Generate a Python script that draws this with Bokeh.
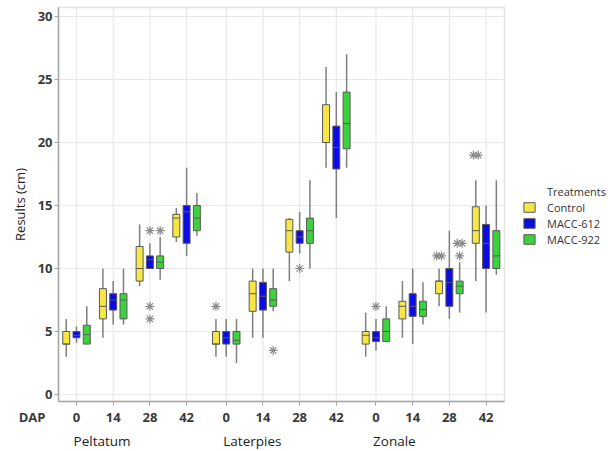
from collections import Counter
from bokeh.plotting import figure
from bokeh.models import (ColumnDataSource, FixedTicker, Label, Legend, LegendItem, Range1d,
                          BoxAnnotation)
from bokeh.embed import file_html
from bokeh.resources import INLINE

# ---------------- data ----------------
groups = ["Peltatum", "Laterpies", "Zonale"]
dap = ["0", "14", "28", "42"]
treatments = ["Control", "MACC-612", "MACC-922"]
colors = ["#F8E546", "#0B0BE2", "#3DD23D"]
y_ticks = [0, 5, 10, 15, 20, 25, 30]

# cells ordered: Peltatum 0,14,28,42 | Laterpies 0,14,28,42 | Zonale 0,14,28,42
control_low = [3.0, 4.5, 8.6, 12.1, 3.0, 4.5, 9.0, 18.0, 3.0, 4.5, 7.0, 9.0]
control_q1 = [4.0, 6.0, 9.0, 12.5, 4.0, 6.6, 11.3, 20.0, 4.0, 6.0, 8.0, 12.0]
control_med = [4.0, 7.0, 10.0, 14.0, 4.0, 8.0, 13.0, 20.0, 4.7, 7.0, 9.0, 13.0]
control_q3 = [5.0, 8.4, 11.75, 14.3, 5.0, 9.0, 13.9, 23.0, 5.0, 7.4, 9.0, 14.9]
control_high = [6.0, 10.0, 13.5, 14.8, 6.0, 10.0, 14.0, 26.0, 6.5, 9.0, 10.0, 17.0]

macc612_low = [4.1, 5.55, 10.0, 11.0, 3.0, 4.5, 11.2, 14.0, 3.5, 4.0, 6.0, 6.5]
macc612_q1 = [4.5, 6.7, 10.0, 12.0, 4.0, 6.7, 12.0, 17.9, 4.2, 6.2, 7.0, 10.0]
macc612_med = [4.7, 7.5, 10.7, 14.5, 4.5, 7.8, 12.5, 19.6, 4.5, 7.0, 8.9, 12.0]
macc612_q3 = [5.0, 8.0, 11.0, 15.0, 5.0, 8.9, 13.0, 21.3, 5.0, 8.0, 10.0, 13.5]
macc612_high = [5.4, 9.0, 12.0, 18.0, 6.0, 10.0, 14.5, 24.0, 6.0, 10.0, 13.0, 15.0]

macc922_low = [4.0, 5.55, 9.1, 12.6, 2.5, 6.6, 10.0, 18.0, 4.2, 5.55, 6.5, 9.5]
macc922_q1 = [4.0, 6.0, 10.0, 13.0, 4.0, 7.0, 12.0, 19.5, 4.2, 6.2, 8.0, 10.0]
macc922_med = [4.75, 7.5, 10.5, 14.0, 4.3, 7.5, 13.0, 21.5, 5.0, 6.75, 8.6, 11.0]
macc922_q3 = [5.5, 8.0, 11.0, 15.0, 5.0, 8.4, 14.0, 24.0, 6.0, 7.4, 9.0, 13.0]
macc922_high = [7.0, 10.0, 12.5, 16.0, 6.0, 10.0, 17.0, 27.0, 7.0, 8.9, 10.5, 17.0]

control_out_cell = [4, 10, 10, 11, 11]
control_out_val = [7.0, 11.0, 11.0, 19.0, 19.0]
macc612_out_cell = [2, 2, 2, 6, 8]
macc612_out_val = [13.0, 7.0, 6.0, 10.0, 7.0]
macc922_out_cell = [2, 5, 10, 10, 10]
macc922_out_val = [13.0, 3.5, 12.0, 12.0, 11.0]

stats = [
    (control_low, control_q1, control_med, control_q3, control_high, control_out_cell, control_out_val),
    (macc612_low, macc612_q1, macc612_med, macc612_q3, macc612_high, macc612_out_cell, macc612_out_val),
    (macc922_low, macc922_q1, macc922_med, macc922_q3, macc922_high, macc922_out_cell, macc922_out_val),
]

# ---------------- layout constants ----------------
GROUP_STRIDE = 4.08
DODGE = 0.28
BOX_W = 0.19
FONT = "Open Sans"
W, H = 608, 451
# plot area (data units) and whole-canvas ranges
PX0, PX1 = -0.4905, 11.662
PY0, PY1 = -0.556, 30.714
CX0, CX1 = -2.0708, 14.496
CY0, CY1 = -4.524, 31.270
AXIS_COL = "#a6a6a6"
GRID_COL = "#e9e9e9"

cell_x = [g * GROUP_STRIDE + d for g in range(len(groups)) for d in range(len(dap))]

p = figure(width=W, height=H, output_backend="svg", toolbar_location=None,
           x_range=Range1d(CX0, CX1), y_range=Range1d(CY0, CY1),
           min_border=0, min_border_left=0, min_border_right=0,
           min_border_top=0, min_border_bottom=0)
p.background_fill_color = "white"
p.border_fill_color = "white"
p.outline_line_color = None

# axes pinned to the plot area edges
p.xaxis.fixed_location = PY0
p.yaxis.fixed_location = PX0
p.xaxis.bounds = (PX0, PX1)
p.yaxis.bounds = (PY0, PY1)
p.xaxis.ticker = FixedTicker(ticks=cell_x)
p.xaxis.major_label_overrides = {x: dap[i % len(dap)] for i, x in enumerate(cell_x)}
p.yaxis.ticker = FixedTicker(ticks=y_ticks)
for ax in (p.xaxis, p.yaxis):
    ax.axis_line_color = AXIS_COL
    ax.axis_line_width = 1.5
    ax.major_tick_line_color = AXIS_COL
    ax.major_tick_out = 4
    ax.major_tick_in = 0
    ax.minor_tick_line_color = None
    ax.major_label_text_font = FONT
    ax.major_label_text_font_size = "13px"
    ax.major_label_text_font_style = "bold"
    ax.major_label_text_color = "#3a3a3a"
p.xaxis.major_label_standoff = 7
p.yaxis.major_label_standoff = 2
p.yaxis.axis_label = "Results (cm)"
p.yaxis.axis_label_text_font = FONT
p.yaxis.axis_label_text_font_size = "13px"
p.yaxis.axis_label_text_font_style = "normal"
p.yaxis.axis_label_text_color = "#222222"
p.yaxis.axis_label_standoff = 6

# grid limited to plot area
p.xgrid.grid_line_color = None
p.ygrid.grid_line_color = None
gsrc_v = ColumnDataSource(dict(x=cell_x, y0=[PY0] * len(cell_x), y1=[PY1] * len(cell_x)))
gsrc_h = ColumnDataSource(dict(y=y_ticks, x0=[PX0] * len(y_ticks), x1=[PX1] * len(y_ticks)))
p.segment(x0="x", y0="y0", x1="x", y1="y1", source=gsrc_v, line_color=GRID_COL, line_width=1.2)
p.segment(x0="x0", y0="y", x1="x1", y1="y", source=gsrc_h, line_color=GRID_COL, line_width=1.2)

# plot-area border
p.add_layout(BoxAnnotation(left=PX0, right=PX1, bottom=PY0, top=PY1, fill_alpha=0,
                           line_color=AXIS_COL, line_width=1.5))

# boxes
legend_items = []
title_r = p.vbar(x=[], bottom=[], top=[], width=BOX_W, fill_alpha=0, line_alpha=0)
legend_items.append(LegendItem(label="Treatments", renderers=[title_r]))
for t, (lo, q1, med, q3, hi, oc, ov) in enumerate(stats):
    xs = [cx + (t - 1) * DODGE for cx in cell_x]
    src = ColumnDataSource(dict(
        x=xs, lo=lo, q1=q1, med=med, q3=q3, hi=hi,
        xl=[x - BOX_W / 2 for x in xs], xr=[x + BOX_W / 2 for x in xs]))
    p.segment(x0="x", y0="q3", x1="x", y1="hi", source=src, line_color="#7f7f7f", line_width=1.5)
    p.segment(x0="x", y0="lo", x1="x", y1="q1", source=src, line_color="#7f7f7f", line_width=1.5)
    r = p.vbar(x="x", bottom="q1", top="q3", width=BOX_W, source=src,
               fill_color=colors[t], line_color="#5a5a5a", line_width=1)
    p.segment(x0="xl", y0="med", x1="xr", y1="med", source=src, line_color="#5a5a5a", line_width=1)
    legend_items.append(LegendItem(label=treatments[t], renderers=[r]))

    # outliers (duplicates drawn side by side)
    seen = Counter()
    cnt = Counter(zip(oc, ov))
    ox, oy = [], []
    for c, v in zip(oc, ov):
        n = cnt[(c, v)]
        k = seen[(c, v)]
        seen[(c, v)] += 1
        off = 0.0 if n == 1 else (k - (n - 1) / 2) * 0.13
        ox.append(cell_x[c] + (t - 1) * DODGE + off)
        oy.append(v)
    p.scatter(ox, oy, marker="asterisk", size=9, line_color="#8a8a8a", line_width=1.2)

# legend
legend = Legend(items=legend_items, location=(522, 204), orientation="vertical",
                padding=0, margin=0, spacing=0, border_line_color=None,
                background_fill_alpha=0, glyph_width=14, glyph_height=12,
                label_standoff=11, label_height=16,
                label_text_font=FONT, label_text_font_size="11px",
                label_text_color="#333333")
p.add_layout(legend, "center")

# x-axis row title and group labels
p.add_layout(Label(x=45, y=35, x_units="screen", y_units="screen", text="DAP",
                   text_font=FONT, text_font_size="13px", text_font_style="bold",
                   text_color="#3a3a3a", text_align="right", text_baseline="middle"))
for g, name in enumerate(groups):
    p.add_layout(Label(x=cell_x[g * len(dap)] - 0.08, y=11, x_units="data", y_units="screen",
                       text=name, text_font=FONT, text_font_size="13.5px",
                       text_color="#222222", text_align="left", text_baseline="middle"))

open("out.html", "w").write(file_html(p, INLINE))
